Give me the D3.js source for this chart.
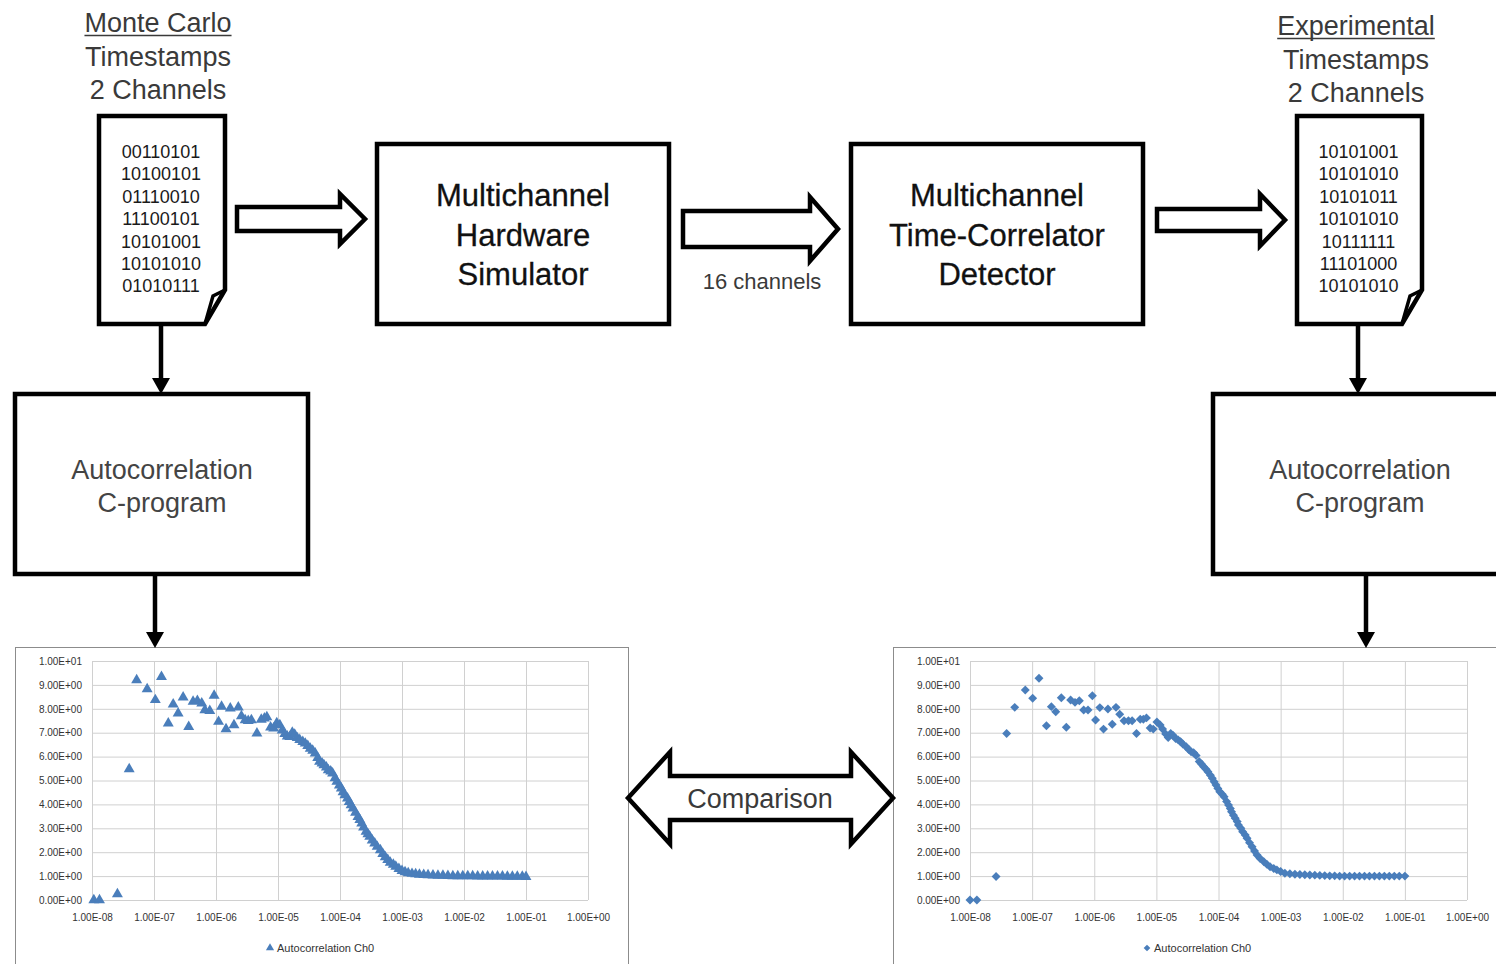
<!DOCTYPE html>
<html>
<head>
<meta charset="utf-8">
<script src="https://cdnjs.cloudflare.com/ajax/libs/d3/7.8.5/d3.min.js"></script>
<style>
	body { margin: 0; background: #fff; }
	svg { display: block; font-family: "Liberation Sans", Arial, sans-serif; }
</style>
</head>
<body>
<div id="diagram"></div>
<script>

///////////////////////////////////////////////////////////////////////////
///////////////////////////////// Data ////////////////////////////////////
///////////////////////////////////////////////////////////////////////////

//Axis ticks of both autocorrelation plots
var lagTicks = [1e-8, 1e-7, 1e-6, 1e-5, 1e-4, 1e-3, 1e-2, 1e-1, 1];
var gTicks = [0, 1, 2, 3, 4, 5, 6, 7, 8, 9, 10];

//Monte Carlo timestamps - lag time (s) and autocorrelation value
var mcLag = [1.07e-8, 1.32e-8, 2.57e-8, 3.98e-8, 5.25e-8, 7.76e-8, 1.05e-7, 1.32e-7, 1.70e-7, 2.04e-7,
	2.45e-7, 2.95e-7, 3.63e-7, 4.27e-7, 5.01e-7, 5.89e-7, 6.61e-7, 7.94e-7, 9.33e-7, 1.10e-6,
	1.23e-6, 1.45e-6, 1.70e-6, 1.95e-6, 2.29e-6, 2.57e-6, 2.95e-6, 3.31e-6, 3.72e-6, 4.57e-6,
	5.37e-6, 6.03e-6, 6.61e-6, 7.59e-6, 8.51e-6, 9.55e-6, 1.07e-5, 1.17e-5, 1.29e-5, 1.41e-5,
	1.55e-5, 1.70e-5, 1.86e-5, 2.04e-5, 2.24e-5, 2.51e-5, 2.75e-5, 3.02e-5, 3.31e-5, 3.63e-5,
	3.98e-5, 4.37e-5, 4.68e-5, 5.13e-5, 5.50e-5, 6.03e-5, 6.46e-5, 7.08e-5, 7.59e-5, 8.32e-5,
	8.91e-5, 9.77e-5, 1.05e-4, 1.12e-4, 1.20e-4, 1.32e-4, 1.41e-4, 1.51e-4, 1.62e-4, 1.78e-4,
	1.95e-4, 2.09e-4, 2.24e-4, 2.40e-4, 2.63e-4, 2.82e-4, 3.02e-4, 3.31e-4, 3.63e-4, 3.98e-4,
	4.47e-4, 4.90e-4, 5.37e-4, 5.89e-4, 6.46e-4, 7.24e-4, 7.94e-4, 8.91e-4, 1.00e-3, 1.12e-3,
	1.26e-3, 1.45e-3, 1.66e-3, 1.91e-3, 2.24e-3, 2.63e-3, 3.16e-3, 3.80e-3, 4.57e-3, 5.50e-3,
	6.61e-3, 7.94e-3, 9.55e-3, 1.15e-2, 1.38e-2, 1.66e-2, 2.00e-2, 2.40e-2, 2.88e-2, 3.47e-2,
	4.17e-2, 5.01e-2, 6.03e-2, 7.24e-2, 8.71e-2, 1.00e-1];
var mcG = [0.00, 0.00, 0.25, 5.48, 9.20, 8.83, 8.37, 9.34, 7.39, 8.19,
	7.81, 8.48, 7.25, 8.30, 8.33, 8.23, 7.95, 7.91, 8.55, 7.46,
	8.09, 7.15, 8.02, 7.32, 8.06, 7.70, 7.53, 7.50, 7.53, 6.97,
	7.55, 7.60, 7.65, 7.22, 7.18, 7.40, 7.32, 7.10, 6.95, 6.85,
	6.83, 7.00, 6.92, 6.78, 6.70, 6.62, 6.55, 6.45, 6.34, 6.25,
	6.14, 5.95, 5.79, 5.72, 5.65, 5.55, 5.44, 5.38, 5.30, 5.10,
	4.95, 4.80, 4.67, 4.52, 4.39, 4.25, 4.11, 3.97, 3.84, 3.66,
	3.48, 3.35, 3.21, 3.04, 2.86, 2.76, 2.65, 2.50, 2.37, 2.23,
	2.09, 1.93, 1.80, 1.68, 1.57, 1.48, 1.40, 1.30, 1.22, 1.17,
	1.13, 1.10, 1.08, 1.06, 1.05, 1.04, 1.03, 1.02, 1.02, 1.01,
	1.00, 1.00, 1.00, 1.00, 1.00, 0.99, 0.99, 0.99, 0.99, 0.99,
	0.99, 0.98, 0.98, 0.98, 0.98, 0.97];

//Experimental timestamps - lag time (s) and autocorrelation value
var expLag = [1.00e-8, 1.29e-8, 2.63e-8, 3.89e-8, 5.25e-8, 7.76e-8, 1.02e-7, 1.29e-7, 1.70e-7, 2.04e-7,
	2.40e-7, 2.95e-7, 3.55e-7, 4.17e-7, 4.90e-7, 5.75e-7, 6.76e-7, 7.94e-7, 9.33e-7, 1.05e-6,
	1.23e-6, 1.41e-6, 1.66e-6, 1.95e-6, 2.24e-6, 2.57e-6, 3.02e-6, 3.55e-6, 4.07e-6, 4.79e-6,
	5.50e-6, 6.17e-6, 6.92e-6, 7.94e-6, 8.91e-6, 1.02e-5, 1.15e-5, 1.26e-5, 1.41e-5, 1.55e-5,
	1.70e-5, 1.86e-5, 2.04e-5, 2.24e-5, 2.45e-5, 2.69e-5, 3.02e-5, 3.31e-5, 3.63e-5, 3.98e-5,
	4.37e-5, 4.90e-5, 5.37e-5, 5.75e-5, 6.31e-5, 6.76e-5, 7.41e-5, 7.94e-5, 8.51e-5, 9.12e-5,
	9.77e-5, 1.05e-4, 1.15e-4, 1.23e-4, 1.35e-4, 1.45e-4, 1.55e-4, 1.62e-4, 1.74e-4, 1.86e-4,
	2.00e-4, 2.09e-4, 2.29e-4, 2.45e-4, 2.69e-4, 2.88e-4, 3.16e-4, 3.47e-4, 3.80e-4, 4.17e-4,
	4.68e-4, 5.37e-4, 6.03e-4, 6.76e-4, 7.76e-4, 8.71e-4, 1.00e-3, 1.17e-3, 1.41e-3, 1.70e-3,
	2.04e-3, 2.45e-3, 2.95e-3, 3.55e-3, 4.27e-3, 5.13e-3, 6.17e-3, 7.41e-3, 8.91e-3, 1.07e-2,
	1.29e-2, 1.55e-2, 1.86e-2, 2.24e-2, 2.69e-2, 3.24e-2, 3.89e-2, 4.68e-2, 5.62e-2, 6.76e-2,
	8.13e-2, 1.00e-1];
var expG = [0.00, 0.00, 0.98, 6.97, 8.06, 8.79, 8.44, 9.28, 7.29, 8.09,
	7.88, 8.46, 7.23, 8.37, 8.27, 8.34, 7.95, 7.95, 8.55, 7.53,
	8.05, 7.15, 7.99, 7.35, 8.06, 7.77, 7.50, 7.50, 7.50, 6.97,
	7.56, 7.56, 7.62, 7.20, 7.15, 7.45, 7.32, 7.15, 6.95, 6.80,
	6.97, 6.88, 6.76, 6.70, 6.62, 6.52, 6.41, 6.30, 6.20, 6.16,
	6.05, 5.79, 5.68, 5.58, 5.47, 5.37, 5.22, 5.09, 4.95, 4.81,
	4.67, 4.53, 4.42, 4.32, 4.12, 3.97, 3.83, 3.69, 3.55, 3.42,
	3.28, 3.14, 3.00, 2.86, 2.72, 2.58, 2.40, 2.23, 2.05, 1.88,
	1.74, 1.60, 1.49, 1.39, 1.32, 1.26, 1.19, 1.12, 1.10, 1.08,
	1.07, 1.06, 1.05, 1.04, 1.03, 1.02, 1.01, 1.01, 1.00, 1.00,
	1.00, 1.00, 1.00, 1.00, 1.00, 1.00, 1.00, 1.00, 1.00, 1.00,
	1.00, 1.00];

//Timestamp words printed on the two "files"
var mcBits = ["00110101", "10100101", "01110010", "11100101", "10101001", "10101010", "01010111"];
var expBits = ["10101001", "10101010", "10101011", "10101010", "10111111", "11101000", "10101010"];
var legendLabel = "Autocorrelation Ch0";

///////////////////////////////////////////////////////////////////////////
//////////////////////////// Set up the svg ///////////////////////////////
///////////////////////////////////////////////////////////////////////////

var width = 1496,
	height = 964,
	lineW = 4.5;

var svg = d3.select("#diagram")
	.append("svg")
	.attr("width", width)
	.attr("height", height);

svg.append("rect")
	.attr("width", width)
	.attr("height", height)
	.style("fill", "#fff");

//Excel style scientific labels, e.g. 1.00E-08
function sciFormat(v) {
	var e = v === 0 ? 0 : Math.floor(Math.log10(v) + 1e-9);
	var m = v / Math.pow(10, e);
	return m.toFixed(2) + "E" + (e < 0 ? "-" : "+") + (Math.abs(e) < 10 ? "0" : "") + Math.abs(e);
}

///////////////////////////////////////////////////////////////////////////
////////////////////////// Autocorrelation plots //////////////////////////
///////////////////////////////////////////////////////////////////////////

var panels = [
	{lag: mcLag, g: mcG, marker: "triangle", frameX: 15, frameW: 613,
		left: 92, right: 588, legendX: 270},
	{lag: expLag, g: expG, marker: "diamond", frameX: 893, frameW: 640,
		left: 970, right: 1467, legendX: 1147}
];
var plotTop = 661,
	plotBottom = 900,
	dotColor = "#4a7ebb";

function markerPath(type) {
	return type === "triangle" ?
		d3.symbol().type(d3.symbolTriangle).size(52)() :
		d3.symbol().type(d3.symbolSquare).size(40)();
}

panels.forEach(function(p) {

	var x = d3.scaleLog().domain([lagTicks[0], lagTicks[lagTicks.length - 1]]).range([p.left, p.right]);
	var y = d3.scaleLinear().domain([gTicks[0], gTicks[gTicks.length - 1]]).range([plotBottom, plotTop]);

	var chart = svg.append("g").attr("class", "chart");

	//Chart frame
	chart.append("rect")
		.attr("x", p.frameX + 0.5)
		.attr("y", 647.5)
		.attr("width", p.frameW)
		.attr("height", 340)
		.style("fill", "#fff")
		.style("stroke", "#8c8c8c")
		.style("stroke-width", 1);

	//Horizontal gridlines + labels
	chart.append("g")
		.attr("class", "y axis")
		.attr("transform", "translate(" + p.left + ",0)")
		.call(d3.axisLeft(y).tickValues(gTicks).tickSize(-(p.right - p.left)).tickPadding(10).tickFormat(sciFormat));

	//Vertical gridlines + labels
	chart.append("g")
		.attr("class", "x axis")
		.attr("transform", "translate(0," + plotBottom + ")")
		.call(d3.axisBottom(x).tickValues(lagTicks).tickSize(-(plotBottom - plotTop)).tickPadding(14).tickFormat(sciFormat));

	chart.selectAll(".axis .domain").remove();
	chart.selectAll(".axis line")
		.style("stroke", "#d0d0d0")
		.style("stroke-width", 1);
	chart.selectAll(".axis text")
		.style("font-family", "'Liberation Sans', Arial, sans-serif")
		.style("font-size", "10px")
		.style("fill", "#333");

	//Data points
	chart.selectAll(".dot")
		.data(p.lag)
		.enter().append("path")
		.attr("class", "dot")
		.attr("d", markerPath(p.marker))
		.attr("transform", function(d, i) {
			return "translate(" + x(d) + "," + y(p.g[i]) + ")" + (p.marker === "diamond" ? " rotate(45)" : "");
		})
		.style("fill", dotColor);

	//Legend
	chart.append("path")
		.attr("d", markerPath(p.marker))
		.attr("transform", "translate(" + p.legendX + ",948) scale(0.75)" + (p.marker === "diamond" ? " rotate(45)" : ""))
		.style("fill", dotColor);
	chart.append("text")
		.attr("x", p.legendX + 7)
		.attr("y", 952)
		.style("font-size", "11px")
		.style("fill", "#333")
		.text(legendLabel);
});

///////////////////////////////////////////////////////////////////////////
///////////////////////////// Flow diagram ////////////////////////////////
///////////////////////////////////////////////////////////////////////////

//Hollow block arrow pointing right
function blockArrow(x0, x1, yc, sh, hh, hl) {
	return "M" + x0 + "," + (yc - sh) + "H" + (x1 - hl) + "V" + (yc - hh) +
		"L" + x1 + "," + yc + "L" + (x1 - hl) + "," + (yc + hh) +
		"V" + (yc + sh) + "H" + x0 + "Z";
}
//Hollow double headed arrow
function doubleArrow(x0, x1, yc, sh, hh, hl) {
	return "M" + x0 + "," + yc + "L" + (x0 + hl) + "," + (yc - hh) + "V" + (yc - sh) +
		"H" + (x1 - hl) + "V" + (yc - hh) + "L" + x1 + "," + yc + "L" + (x1 - hl) + "," + (yc + hh) +
		"V" + (yc + sh) + "H" + (x0 + hl) + "V" + (yc + hh) + "Z";
}

var outline = function(sel) {
	sel.style("fill", "#fff")
		.style("stroke", "#000")
		.style("stroke-width", lineW)
		.style("stroke-linejoin", "miter");
};

//Block arrows in the top row
[[237, 365, 219, 12, 25, 25], [683, 838, 229, 18, 32, 28], [1157, 1285, 220, 11, 26, 25]].forEach(function(a) {
	svg.append("path").attr("d", blockArrow.apply(null, a)).call(outline);
});

svg.append("path").attr("d", doubleArrow(628, 893, 798, 22, 46, 42)).call(outline);

//Boxes
var boxes = [
	{x: 377, y: 144, w: 292, h: 180, lines: ["Multichannel", "Hardware", "Simulator"], cx: 523},
	{x: 851, y: 144, w: 292, h: 180, lines: ["Multichannel", "Time-Correlator", "Detector"], cx: 997},
	{x: 15, y: 394, w: 293, h: 180, lines: [], cx: 162},
	{x: 1213, y: 394, w: 320, h: 180, lines: [], cx: 1360}
];
boxes.forEach(function(b) {
	svg.append("rect")
		.attr("x", b.x).attr("y", b.y)
		.attr("width", b.w).attr("height", b.h)
		.call(outline);
	b.lines.forEach(function(t, i) {
		svg.append("text")
			.attr("x", b.cx)
			.attr("y", 206 + i * 39.5)
			.attr("text-anchor", "middle")
			.style("font-size", "31px")
			.style("fill", "#111")
			.style("stroke", "#111")
			.style("stroke-width", 0.3)
			.text(t);
	});
});

[162, 1360].forEach(function(cx) {
	["Autocorrelation", "C-program"].forEach(function(t, i) {
		svg.append("text")
			.attr("x", cx)
			.attr("y", 479 + i * 33)
			.attr("text-anchor", "middle")
			.style("font-size", "27px")
			.style("fill", "#444")
			.text(t);
	});
});

//Timestamp files with a folded corner
var docs = [
	{l: 99, r: 225, title: "Monte Carlo", bits: mcBits, cx: 158, ty: 32},
	{l: 1297, r: 1422, title: "Experimental", bits: expBits, cx: 1356, ty: 35}
];
docs.forEach(function(d) {
	var t = 116, b = 324, fy = 290, fx = d.r - 20;
	svg.append("path")
		.attr("d", "M" + d.l + "," + t + "H" + d.r + "V" + fy + "L" + fx + "," + b + "H" + d.l + "Z")
		.call(outline);
	svg.append("path")
		.attr("d", "M" + d.r + "," + fy + "L" + (d.r - 12) + "," + (fy + 6) + "L" + fx + "," + b)
		.style("fill", "none")
		.style("stroke", "#000")
		.style("stroke-width", 3.5);

	d.bits.forEach(function(s, i) {
		svg.append("text")
			.attr("x", (d.l + d.r) / 2 - 1)
			.attr("y", 158 + i * 22.4)
			.attr("text-anchor", "middle")
			.style("font-size", "18px")
			.style("fill", "#1a1a1a")
			.text(s);
	});

	var titles = [d.title, "Timestamps", "2 Channels"];
	titles.forEach(function(s, i) {
		var txt = svg.append("text")
			.attr("x", d.cx)
			.attr("y", d.ty + i * 33.5)
			.attr("text-anchor", "middle")
			.style("font-size", "27px")
			.style("fill", "#3a3a3a")
			.text(s);
		if (i === 0) {
			var len = txt.node().getComputedTextLength();
			svg.append("line")
				.attr("x1", d.cx - len / 2).attr("x2", d.cx + len / 2)
				.attr("y1", d.ty + 3.5).attr("y2", d.ty + 3.5)
				.style("stroke", "#3a3a3a")
				.style("stroke-width", 1.6);
		}
	});
});

svg.append("text")
	.attr("x", 762)
	.attr("y", 289)
	.attr("text-anchor", "middle")
	.style("font-size", "22px")
	.style("fill", "#3a3a3a")
	.text("16 channels");

svg.append("text")
	.attr("x", 760)
	.attr("y", 808)
	.attr("text-anchor", "middle")
	.style("font-size", "27px")
	.style("fill", "#3a3a3a")
	.text("Comparison");

//Vertical connector arrows
[[161, 324, 394], [155, 574, 648], [1358, 324, 394], [1366, 574, 648]].forEach(function(a) {
	svg.append("line")
		.attr("x1", a[0]).attr("x2", a[0])
		.attr("y1", a[1]).attr("y2", a[2] - 12)
		.style("stroke", "#000")
		.style("stroke-width", lineW);
	svg.append("path")
		.attr("d", "M" + (a[0] - 9) + "," + (a[2] - 16) + "L" + (a[0] + 9) + "," + (a[2] - 16) + "L" + a[0] + "," + a[2] + "Z")
		.style("fill", "#000");
});

</script>
</body>
</html>
